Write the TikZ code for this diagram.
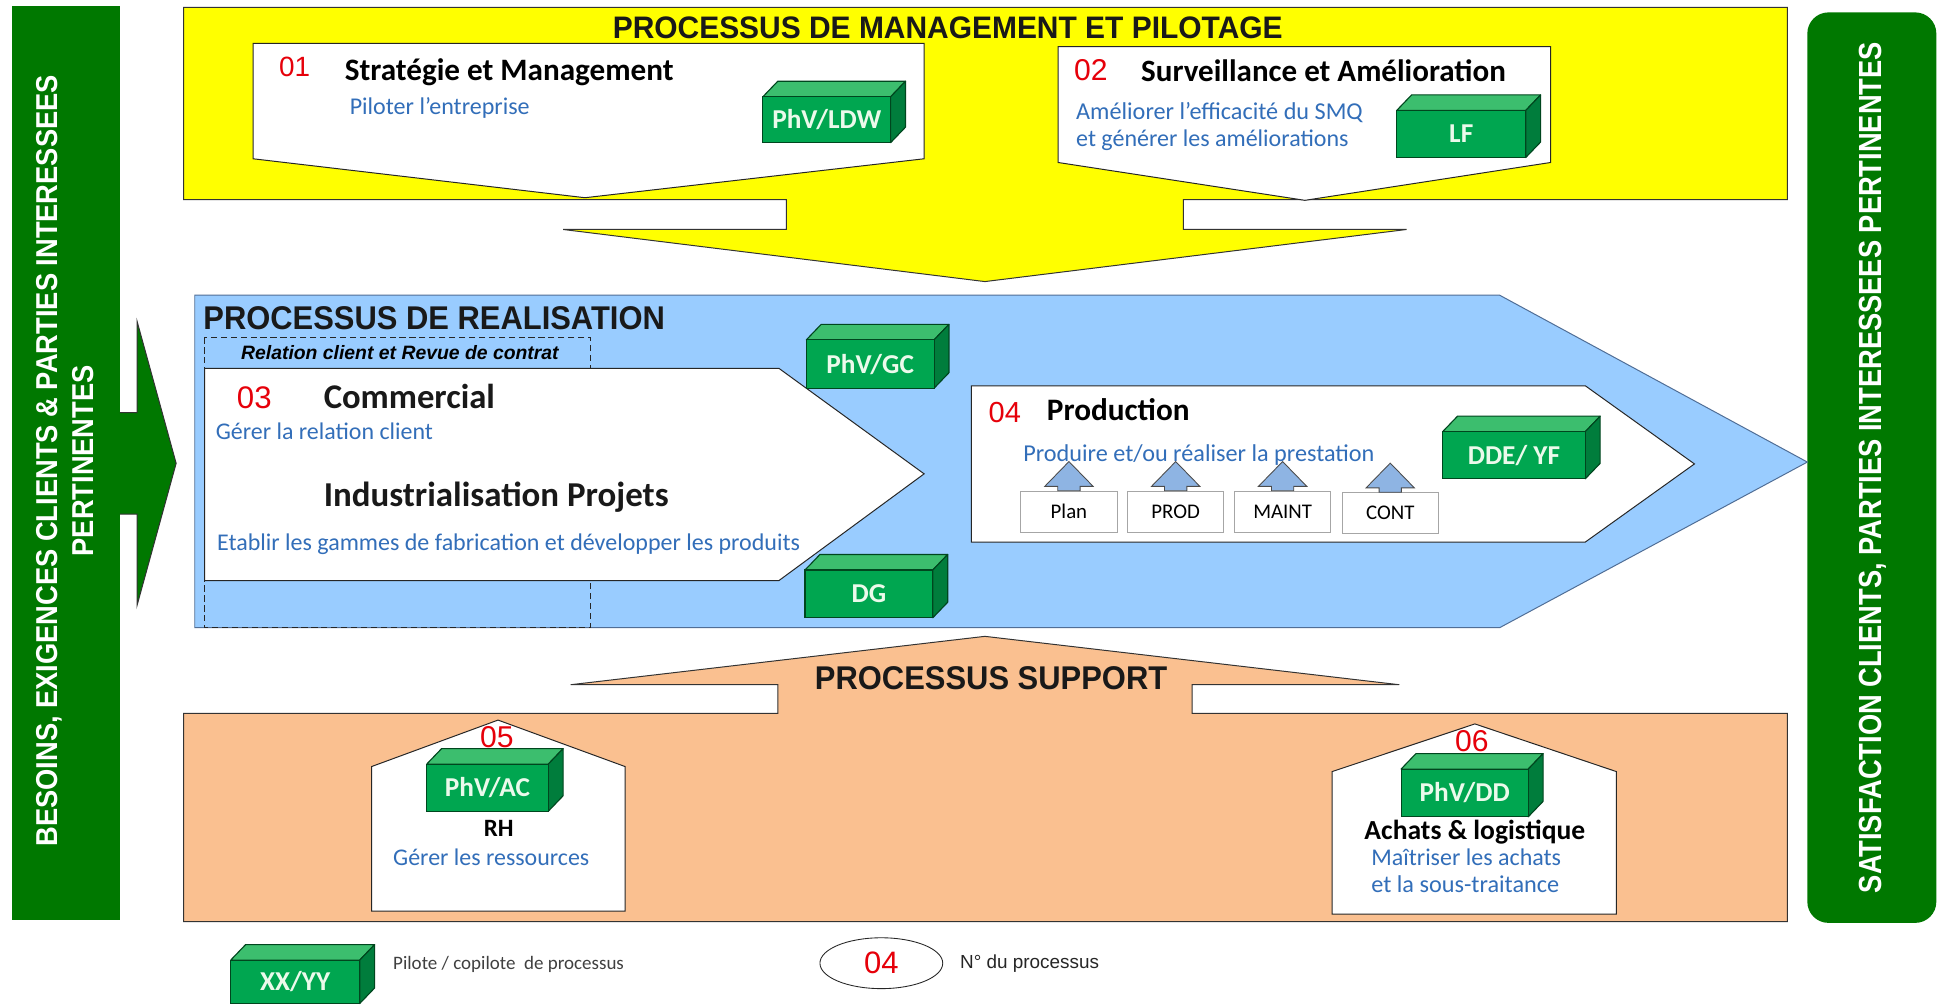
\documentclass[tikz,border=0pt]{standalone}
\usepackage{fontspec}
\usepackage{graphicx}
\setmainfont{Carlito}
\newfontfamily\arialf{Liberation Sans}
\usetikzlibrary{shapes.geometric}
\definecolor{bargreen}{RGB}{0,120,0}
\definecolor{cubegreen}{RGB}{0,166,80}
\definecolor{cubetopc}{RGB}{60,190,110}
\definecolor{cubesidec}{RGB}{0,125,60}
\definecolor{cubedark}{RGB}{0,70,30}
\definecolor{cubetext}{RGB}{235,250,235}
\definecolor{yel}{RGB}{255,255,0}
\definecolor{procblue}{RGB}{153,204,255}
\definecolor{blueline}{RGB}{80,110,150}
\definecolor{peach}{RGB}{250,192,144}
\definecolor{numred}{RGB}{230,0,10}
\definecolor{descblue}{RGB}{50,110,185}
\definecolor{arrowblue}{RGB}{142,180,227}
\newcommand\fitw[2]{\resizebox{#1pt}{!}{#2}}
\newcommand\mycuboid[6]{%
  \filldraw[cubetop] (#2,#3) -- ++(12,-12.5) -- ++(#4,0) -- ++(-12,12.5) -- cycle;
  \filldraw[cubeside] (#2+#4,#3) -- ++(12,-12.5) -- ++(0,#5) -- ++(-12,12.5) -- cycle;
  \node[cubefront, minimum width=#4pt, minimum height=#5pt, anchor=north west] (#1) at (#2,#3) {#6};
}
\tikzset{
  outl/.style={draw=black!80, line width=0.8pt},
  whitebox/.style={fill=white, draw=black!85, line width=0.8pt},
  cubetop/.style={fill=cubetopc, draw=cubedark, line width=0.9pt, line join=round},
  cubeside/.style={fill=cubesidec, draw=cubedark, line width=0.9pt, line join=round},
  cubefront/.style={fill=cubegreen, draw=cubedark, line width=0.9pt, inner sep=0pt, outer sep=0pt,
    text=cubetext, font=\bfseries\fontsize{22}{24}\selectfont},
  txt/.style={inner sep=0pt, outer sep=0pt, anchor=base west},
  num/.style={font=\arialf\fontsize{23}{26}\selectfont, text=numred},
  titlef/.style={font=\bfseries\fontsize{24}{28}\selectfont, text=black},
  blackf/.style={font=\bfseries\fontsize{28}{32}\selectfont, text=black!90},
  descf/.style={font=\fontsize{18}{22}\selectfont, text=descblue},
  bigtitle/.style={font=\arialf\bfseries\fontsize{24}{28}\selectfont, text=black!90},
  smallbox/.style={fill=white, draw=black!35, line width=0.8pt, inner sep=0pt,
    minimum width=77.5pt, minimum height=33pt, font=\fontsize{16.8}{20}\selectfont},
  uparr/.style={fill=arrowblue, draw=black!70, line width=0.7pt, line join=miter},
  bartext/.style={rotate=90, text=white, inner sep=0pt, font=\arialf\bfseries\fontsize{22}{24}\selectfont}
}
\begin{document}
\begin{tikzpicture}[x=1pt,y=-1pt]
\useasboundingbox (0,0) rectangle (1568,810);
\fill[white] (0,0) rectangle (1568,810);

% side bars
\fill[bargreen] (10,5) rectangle (96.7,741.7);
\fill[bargreen] (96,332.7) -- (110.5,332.7) -- (110.5,259) -- (142,373.5) -- (110.5,488) -- (110.5,414.5) -- (96,414.5) -- cycle;
\draw[black!80, line width=0.8pt, line join=miter] (96.7,332.7) -- (110.5,332.7) -- (110.5,259) -- (142,373.5) -- (110.5,488) -- (110.5,414.5) -- (96.7,414.5);
\fill[bargreen, rounded corners=17pt] (1457,10) rectangle (1561,744);

% main bands
\filldraw[fill=yel, outl] (148,6) -- (1441,6) -- (1441,161) -- (954,161) -- (954,185) -- (1134,185) -- (794,227) -- (454,185) -- (634,185) -- (634,161) -- (148,161) -- cycle;
\filldraw[fill=procblue, draw=blueline, line width=0.8pt] (157,238) -- (1209,238) -- (1457,372.5) -- (1209,506) -- (157,506) -- cycle;
\filldraw[fill=peach, outl] (148,743) -- (1441,743) -- (1441,575) -- (961,575) -- (961,552) -- (1128,552) -- (794,513) -- (460,552) -- (627,552) -- (627,575) -- (148,575) -- cycle;

% process shapes
\filldraw[whitebox] (204,35) -- (745,35) -- (745,128) -- (471.6,159.4) -- (204,128) -- cycle;
\filldraw[whitebox] (853,37.6) -- (1250,37.6) -- (1250,131) -- (1052,161.5) -- (853,131) -- cycle;
\draw[black!85, line width=0.7pt, dash pattern=on 5pt off 3pt] (165,272) rectangle (476,506);
\filldraw[whitebox] (165,297) -- (628,297) -- (745,382) -- (628,468) -- (165,468) -- cycle;
\filldraw[whitebox] (783,311) -- (1278,311) -- (1366,374) -- (1278,437) -- (783,437) -- cycle;
\filldraw[whitebox] (299.5,734.5) -- (299.5,618) -- (401.5,580.5) -- (504,618) -- (504,734.5) -- cycle;
\filldraw[whitebox] (1074,737) -- (1074,622) -- (1189,583.6) -- (1303,622) -- (1303,737) -- cycle;

% pilots
\mycuboid{cLDW}{615}{78}{103}{37}{PhV/LDW}
\mycuboid{cLF}{1126}{89}{104}{38}{LF}
\mycuboid{cGC}{650}{274}{103}{39}{PhV/GC}
\mycuboid{cDG}{649}{459.5}{103}{38.5}{DG}
\mycuboid{cDDE}{1163}{348}{115}{38}{DDE/ YF}
\mycuboid{cAC}{344}{616}{98}{38}{PhV/AC}
\mycuboid{cDD}{1129.5}{620}{102.5}{38.5}{PhV/DD}
\mycuboid{cXX}{186}{774}{104}{35}{XX/YY}

% management texts
\node[txt, bigtitle] (tmgmt) at (494,31) {\resizebox{540pt}{17.5pt}{PROCESSUS DE MANAGEMENT ET PILOTAGE}};
\node[txt, num] (n01) at (225,62) {\fitw{25}{01}};
\node[txt, titlef] (t01) at (278,64.5) {\fitw{265}{Stratégie et Management}};
\node[txt, descf] (d01) at (282,92.5) {\fitw{145}{Piloter l'entreprise}};
\node[txt, num] (n02) at (866,64.5) {\fitw{27}{02}};
\node[txt, titlef] (t02) at (920,66) {\fitw{294}{Surveillance et Amélioration}};
\node[txt, descf] (d02a) at (867.6,96.7) {\fitw{231}{Améliorer l'efficacité du SMQ}};
\node[txt, descf] (d02b) at (867.6,118) {\fitw{219.5}{et générer les améliorations}};

% realisation texts
\node[txt, bigtitle] (treal) at (164,266) {\resizebox{372pt}{18.5pt}{PROCESSUS DE REALISATION}};
\node[txt, font=\arialf\bfseries\itshape\fontsize{15}{18}\selectfont] (trel) at (194.4,290) {\fitw{256}{Relation client et Revue de contrat}};
\node[txt, num] (n03) at (191,329) {\fitw{28}{03}};
\node[txt, blackf] (t03) at (261,329) {\fitw{138}{Commercial}};
\node[txt, descf] (d03) at (174,354) {\fitw{175}{Gérer la relation client}};
\node[txt, blackf] (t03b) at (261,408.5) {\fitw{278}{Industrialisation Projets}};
\node[txt, descf] (d03b) at (175,443.5) {\fitw{470}{Etablir les gammes de fabrication et développer les produits}};
\node[txt, num] (n04) at (797,341) {\fitw{26}{04}};
\node[txt, titlef] (t04) at (844,338.6) {\fitw{115}{Production}};
\node[txt, descf] (d04) at (825,372) {\fitw{283}{Produire et/ou réaliser la prestation}};

\node[smallbox] (bplan) at (861.75,412.5) {Plan};
\node[smallbox] (bprod) at (947.8,412.5) {PROD};
\node[smallbox] (bmaint) at (1034,412.5) {MAINT};
\node[smallbox] (bcont) at (1120.75,413.75) {CONT};
\foreach \b in {bplan,bprod,bmaint,bcont}
  \filldraw[uparr] (\b.north) ++(-9,0) -- ++(0,-3.5) -- ++(-10.5,0) -- ++(19.5,-20) -- ++(19.5,20) -- ++(-10.5,0) -- ++(0,3.5) -- cycle;

% support texts
\node[txt, bigtitle] (tsup) at (657,556) {\resizebox{284pt}{18.5pt}{PROCESSUS SUPPORT}};
\node[txt, num] (n05) at (387,603) {\fitw{27}{05}};
\node[txt, titlef] (t05) at (390,674.6) {\fitw{24}{RH}};
\node[txt, descf] (d05) at (317,698) {\fitw{158}{Gérer les ressources}};
\node[txt, num] (n06) at (1173,606) {\fitw{27}{06}};
\node[txt, titlef] (t06) at (1100,676.5) {\fitw{178}{Achats \& logistique}};
\node[txt, descf] (d06a) at (1105.5,698) {\fitw{153}{Maîtriser les achats}};
\node[txt, descf] (d06b) at (1105.5,719.7) {\fitw{151.5}{et la sous-traitance}};

% side bar texts
\node[bartext] (lb1) at (40,371.5) {\resizebox{622pt}{17pt}{BESOINS, EXIGENCES CLIENTS \& PARTIES INTERESSEES}};
\node[bartext] (lb2) at (67,371.5) {\resizebox{154pt}{17pt}{PERTINENTES}};
\node[bartext] (rb) at (1510,377) {\resizebox{686pt}{18pt}{SATISFACTION CLIENTS, PARTIES INTERESSEES PERTINENTES}};

% legend
\node[txt, font=\fontsize{13}{16}\selectfont, text=black!75] (tleg1) at (317,781.5) {\fitw{186}{Pilote / copilote\ \ de processus}};
\node[ellipse, draw=black!85, line width=0.7pt, fill=white, minimum width=99pt, minimum height=41pt, inner sep=0pt,
  text=numred, font=\arialf\fontsize{25}{28}\selectfont] (leg04) at (710.5,776.5) {04};
\node[txt, font=\arialf\fontsize{15}{18}\selectfont, text=black!85] (tleg2) at (774,780.6) {\fitw{112}{N° du processus}};
\end{tikzpicture}
\end{document}
